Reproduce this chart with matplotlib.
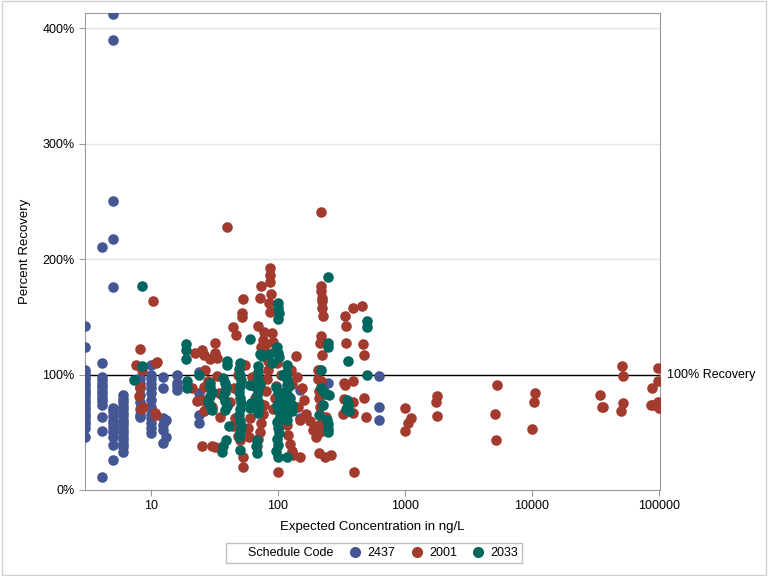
import matplotlib
matplotlib.use("Agg")
import matplotlib.pyplot as plt
from matplotlib.lines import Line2D
from matplotlib.patches import Rectangle
from matplotlib.ticker import FixedLocator, FuncFormatter

plt.rcParams['font.family'] = ['Liberation Sans', 'DejaVu Sans']

# Schedule 2437 (concentration ng/L, percent recovery)
S2437_X = [3.0] * 21 + [4.1] * 14 + [5.0] * 15 + [6.0] * 17 + [8.2] * 8 + [10.0] * 13 \
    + [12.4] * 6 + [13.2] * 2 + [16.0] * 4 + [24.0] * 4 + [148, 148, 246, 623, 623, 623]
S2437_Y = [142, 124, 104, 101, 98, 96, 93, 90, 87, 84, 81, 78, 75, 72, 69, 66, 63, 60, 57, 54, 46,
           210, 110, 98, 95, 92, 89, 86, 83, 80, 77, 74, 63, 51, 11,
           412, 390, 250, 217, 176, 71, 68, 64, 60, 57, 54, 50, 46, 39, 26,
           82, 79, 76, 73, 70, 67, 64, 61, 58, 55, 52, 49, 46, 43, 40, 37, 33,
           97, 93, 88, 82, 76, 70, 65, 63,
           108, 100, 96, 92, 88, 84, 78, 72, 66, 62, 58, 54, 49,
           98, 88, 62, 56, 52, 41,
           61, 46,
           100, 93, 90, 87,
           102, 84, 65, 58,
           87, 62, 93, 99, 72, 61]

# Schedule 2001
S2001 = [(7.6, 108), (8.2, 122), (8.5, 104), (8.2, 89), (8.0, 81), (8.6, 72), (8.4, 70),
         (10.4, 164), (11, 110), (11.2, 111), (10.8, 67), (11, 65),
         (22, 119), (21, 88), (23, 77), (25, 121), (26, 117), (26.5, 104), (26, 89), (25, 78),
         (26, 68), (25, 38), (28, 94), (29, 113), (30, 72), (31.9, 127), (31.9, 119), (33, 114),
         (30, 38), (32, 37), (33, 99), (34, 84), (35, 63), (29, 74), (27, 70),
         (40, 228), (44, 141), (47, 134), (53, 165), (52, 153), (52, 150), (50, 43), (53, 29),
         (53, 20), (55, 108), (48, 100), (45, 88), (42, 76), (46, 62), (44, 55), (48, 47),
         (58, 54), (59, 46), (60, 62), (62, 98), (65, 90), (66, 80), (70, 142), (72, 166),
         (73, 177), (74, 124), (76, 130), (78, 137), (80, 126), (82, 118), (84, 112),
         (86, 192), (87, 186), (86, 180), (88, 170), (85, 162), (86, 154), (84, 104), (82, 96),
         (80, 86), (78, 74), (76, 66), (74, 58), (72, 50), (70, 44), (68, 38), (90, 136),
         (92, 128), (95, 120), (98, 110), (96, 90), (94, 80), (92, 70), (100, 16), (100, 60),
         (105, 100), (108, 84), (112, 76), (115, 64), (118, 56), (120, 48), (125, 40),
         (128, 34), (132, 30), (130, 92), (126, 104), (138, 116), (141, 98), (145, 72),
         (148, 61), (150, 29), (155, 88), (160, 78), (165, 66), (180, 60), (190, 52), (200, 46),
         (205, 104), (208, 96), (210, 86), (212, 80), (215, 72), (218, 241), (218, 177),
         (220, 172), (221, 166), (222, 164), (224, 158), (225, 151), (218, 133), (214, 127),
         (222, 117), (216, 104), (220, 94), (218, 89), (210, 56), (215, 50), (212, 32),
         (225, 63), (235, 29), (340, 151), (344, 142), (345, 127), (330, 93), (335, 91),
         (390, 158), (460, 159), (470, 126), (480, 117), (390, 94), (330, 79), (390, 76),
         (390, 67), (325, 66), (490, 63), (240, 63), (260, 30), (396, 16), (480, 80),
         (1000, 71), (1000, 51), (1050, 58), (1120, 62), (1780, 81), (1750, 76), (1800, 64),
         (5300, 91), (5100, 66), (5200, 43), (10500, 84), (10300, 76), (10000, 53),
         (34500, 82), (35500, 72), (36500, 72), (51000, 107), (52000, 99), (52000, 75),
         (50000, 68), (88000, 88), (87000, 74), (90000, 74), (99000, 106), (98000, 94),
         (99000, 76), (100000, 71)]

# Schedule 2033
S2033 = [(8.5, 177), (8.5, 107), (7.4, 95), (19, 126), (19, 121), (19, 113), (19.3, 94),
         (19.3, 88), (24, 100),
         (29, 93), (29, 89), (30, 85), (29, 81), (28, 77), (29, 73), (30, 69),
         (37, 97), (38, 93), (39, 89), (38, 85), (37, 81), (38, 77), (40, 73), (38, 69),
         (39, 43), (37, 38), (36, 33), (41, 55), (40, 108), (40, 112),
         (50, 110), (49, 105), (50, 100), (51, 95), (50, 90), (49, 85), (50, 80), (51, 75),
         (50, 70), (49, 65), (50, 60), (51, 55), (50, 50), (49, 46), (50, 35),
         (60, 131), (60, 91), (61, 75), (60, 71),
         (70, 107), (69, 102), (70, 97), (72, 92), (70, 87), (68, 82), (70, 77), (71, 72),
         (70, 67), (68, 43), (67, 38), (68, 32), (72, 118), (75, 116),
         (100, 162), (100, 158), (101, 153), (100, 148), (98, 124), (100, 119), (102, 115),
         (97, 89), (100, 84), (103, 79), (99, 74), (100, 69), (104, 64), (98, 59),
         (100, 54), (102, 49), (99, 44), (100, 39), (97, 34), (100, 29),
         (117, 108), (116, 101), (118, 96), (117, 91), (115, 86), (119, 81), (117, 76),
         (116, 71), (118, 66), (117, 61), (117, 29),
         (122, 90), (125, 80), (128, 74), (130, 68), (110, 100), (90, 110), (85, 118),
         (247, 184), (247, 127), (247, 124), (218, 104), (220, 88), (230, 85), (240, 83),
         (250, 82), (225, 74), (210, 65), (245, 61), (247, 57), (247, 53), (247, 50),
         (355, 112), (350, 78), (355, 74), (345, 70), (360, 68),
         (503, 146), (503, 141), (503, 100)]

Y_TICKS = [0, 100, 200, 300, 400]
X_TICKS = [10, 100, 1000, 10000, 100000]
COLORS = {'2437': '#445694', '2001': '#A23A2E', '2033': '#01665E'}

fig = plt.figure(figsize=(7.68, 5.76), dpi=100)
ax = fig.add_axes([85 / 768, 1 - 490 / 576, 575 / 768, 477 / 576])

ax.scatter(S2437_X, S2437_Y, s=58, color=COLORS['2437'], linewidths=0, zorder=3, label='2437')
ax.scatter([p[0] for p in S2001], [p[1] for p in S2001], s=58, color=COLORS['2001'],
           linewidths=0, zorder=3, label='2001')
ax.scatter([p[0] for p in S2033], [p[1] for p in S2033], s=58, color=COLORS['2033'],
           linewidths=0, zorder=4, label='2033')

ax.axhline(100, color='black', linewidth=1, zorder=2)
ax.text(1.012, 100, '100% Recovery', transform=ax.get_yaxis_transform(), ha='left',
        va='center', fontsize=9, clip_on=False)

ax.set_xscale('log')
ax.set_xlim(3.02, 102000)
ax.set_ylim(0, 413)
ax.xaxis.set_major_locator(FixedLocator(X_TICKS))
ax.xaxis.set_minor_locator(FixedLocator([]))
ax.xaxis.set_major_formatter(FuncFormatter(lambda v, p: '%d' % v))
ax.yaxis.set_major_locator(FixedLocator(Y_TICKS))
ax.yaxis.set_major_formatter(FuncFormatter(lambda v, p: '%d%%' % v))
ax.yaxis.grid(True, color='#e4e4e4', linewidth=1, zorder=0)
ax.set_axisbelow(True)

for sp in ax.spines.values():
    sp.set_color('#9a9a9a')
ax.tick_params(colors='#9a9a9a', labelcolor='black', labelsize=9, length=4)

ax.set_xlabel('Expected Concentration in ng/L', fontsize=9.5, labelpad=6)
ax.set_ylabel('Percent Recovery', fontsize=9.5, labelpad=8)

handles = [Line2D([], [], linestyle='none')]
labels = ['Schedule Code']
for code in ['2437', '2001', '2033']:
    handles.append(Line2D([], [], linestyle='none', marker='o', markersize=8,
                          markerfacecolor=COLORS[code], markeredgewidth=0))
    labels.append(code)
leg = fig.legend(handles, labels, loc='center', bbox_to_anchor=(374 / 768, 1 - 553 / 576),
                 ncol=4, fontsize=9, frameon=True, fancybox=False, handlelength=1.0,
                 handletextpad=0.5, columnspacing=1.2, borderpad=0.3)
leg.get_frame().set_edgecolor('#b0b0b0')
leg.get_frame().set_linewidth(1)

fig.patches.append(Rectangle((0.002, 0.002), 0.996, 0.996, transform=fig.transFigure,
                             fill=False, edgecolor='#d0d0d0', linewidth=1))

fig.savefig('out.png', dpi=100)
